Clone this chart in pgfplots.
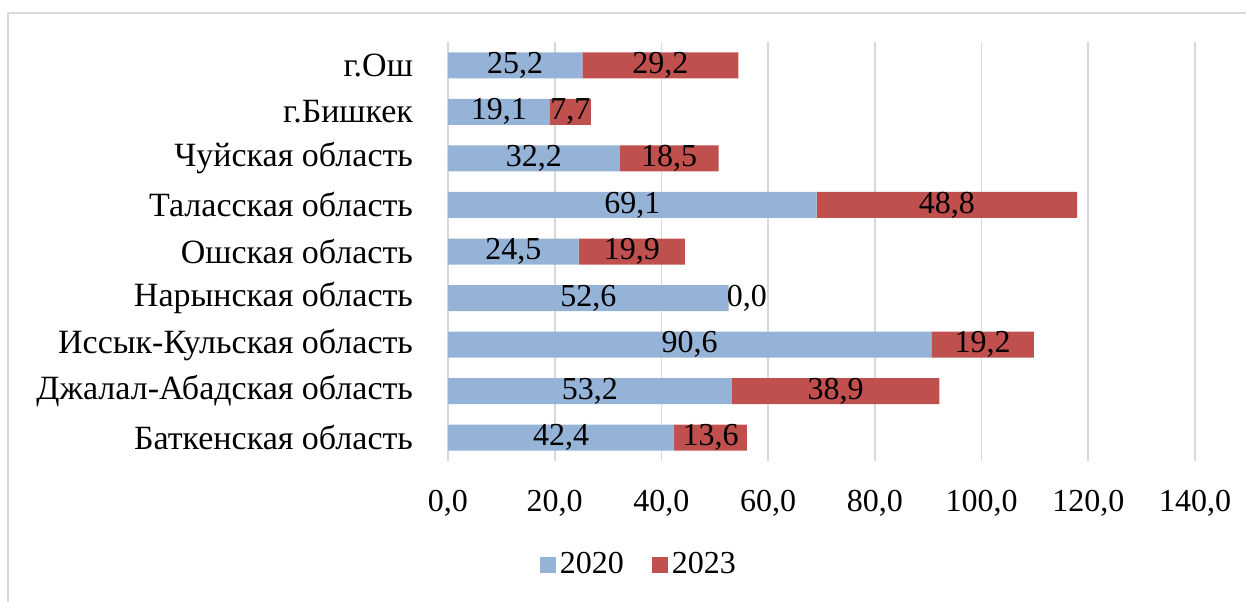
\documentclass[border=0pt]{standalone}
\usepackage{fontspec}
\setmainfont{Liberation Serif}
\usepackage{pgfplots}
\usepackage{pgfplotstable}
\pgfplotsset{compat=1.18}
\definecolor{cblue}{HTML}{95B3D7}
\definecolor{cred}{HTML}{C0504D}
\definecolor{cgrid}{HTML}{D9D9D9}
\pgfplotstableread{
pos v2020 v2023 dx
0 42.4 13.6 0
1 53.2 38.9 0
2 90.6 19.2 0
3 52.6 0.001 3.4
4 24.5 19.9 0
5 69.1 48.8 0
6 32.2 18.5 0
7 19.1 7.7 0
8 25.2 29.2 0
}\data
\begin{document}
\fontsize{16}{19}\selectfont
\begin{tikzpicture}
\useasboundingbox (-224pt,-70pt) rectangle (399pt,230.5pt);
\draw[cgrid, line width=0.8pt] (-220pt,-90pt) rectangle (420pt,224pt);
\begin{axis}[
  at={(0pt,0pt)}, anchor=south west,
  scale only axis, width=373.5pt, height=209.5pt,
  xbar stacked, bar width=13pt,
  xmin=0, xmax=140, ymin=-0.5, ymax=8.5,
  xtick={0,20,...,140},
  ytick={0,...,8},
  yticklabels={Баткенская область, Джалал-Абадская область, Иссык-Кульская область, Нарынская область, Ошская область, Таласская область, Чуйская область, г.Бишкек, г.Ош},
  font=\fontsize{16}{19}\selectfont,
  /pgf/number format/assume math mode=true,
  xticklabel style={/pgf/number format/fixed, /pgf/number format/fixed zerofill, /pgf/number format/precision=1, /pgf/number format/use comma, anchor=center, yshift=-21pt},
  yticklabel style={anchor=east, xshift=-12pt, font=\fontsize{17}{20}\selectfont},
  major tick length=0pt,
  axis line style={draw=none},
  xmajorgrids, grid style={cgrid, line width=0.8pt},
  point meta=explicit,
  nodes near coords={\pgfmathprintnumber[fixed, fixed zerofill, precision=1, use comma, assume math mode=true]{\pgfplotspointmeta}},
  legend style={at={(0.257,-0.248)}, anchor=center, draw=none, legend columns=2, /tikz/every even column/.append style={column sep=12pt}, font=\fontsize{16}{19}\selectfont},
  legend image code/.code={\fill[#1] (0pt,-4pt) rectangle (8pt,4pt);},
]
\addplot[fill=cblue, draw=none,
  every node near coord/.append style={anchor=center}]
  table[x=v2020, y=pos, meta=v2020] {\data};
\addlegendentry{2020}
\addplot[fill=cred, draw=none,
  visualization depends on={\thisrow{dx} \as \dxv},
  every node near coord/.append style={anchor=center, shift={(axis direction cs:\dxv,0)}}]
  table[x=v2023, y=pos, meta=v2023] {\data};
\addlegendentry{2023}
\end{axis}
\end{tikzpicture}
\end{document}
